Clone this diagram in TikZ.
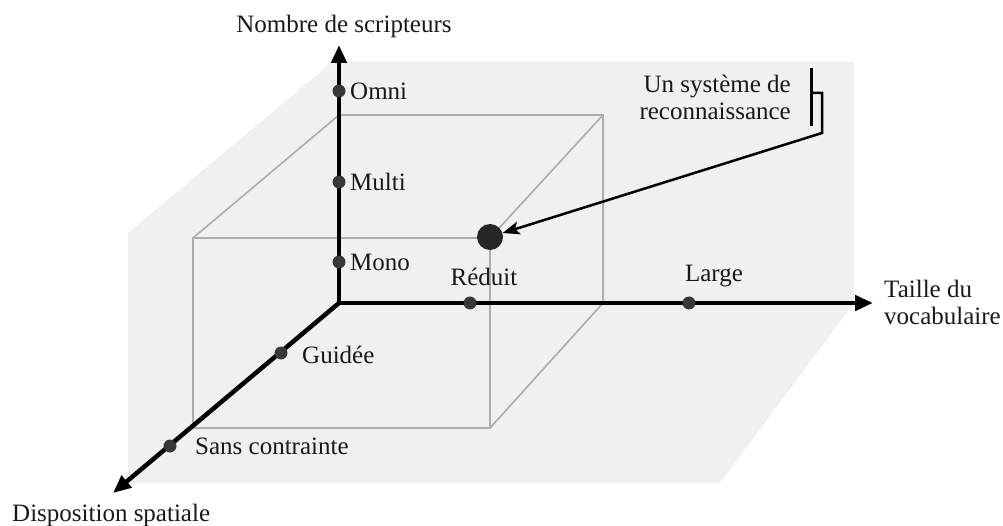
\documentclass[tikz,border=0pt]{standalone}
\usepackage{fontspec}
\setmainfont{Liberation Serif}
\usetikzlibrary{arrows.meta}
\begin{document}
\begin{tikzpicture}[x=1pt,y=-1pt,
  axis/.style={line width=4.5pt, -{Triangle[length=18pt,width=15pt]}},
  cubeline/.style={draw=black!32, line width=1.6pt},
  tick/.style={circle, fill=black!78, inner sep=0pt, minimum size=13pt},
  bigdot/.style={circle, fill=black!85, inner sep=0pt, minimum size=26pt},
  lbl/.style={font=\fontsize{25}{27}\selectfont, inner sep=0pt, text=black!90},
]
\useasboundingbox (0,0) rectangle (1003,526);
% background plane
\fill[black!6] (332,62) -- (854,62) -- (854,303) -- (720,483) -- (128,483) -- (128,233) -- cycle;

% cube
\coordinate (O) at (339,303);
\coordinate (bTL) at (339,115);
\coordinate (bTR) at (603,115);
\coordinate (bBR) at (603,303);
\coordinate (fTL) at (193,238);
\coordinate (fTR) at (490,238);
\coordinate (fBR) at (490,428);
\coordinate (fBL) at (193,428);
\draw[cubeline] (bTL) -- (bTR) -- (bBR);
\draw[cubeline] (fTL) -- (fTR) -- (fBR) -- (fBL) -- cycle;
\draw[cubeline] (fTL) -- (bTL);
\draw[cubeline] (fTR) -- (bTR);
\draw[cubeline] (fBR) -- (bBR);

% axes
\coordinate (ytip) at (339,45);
\coordinate (xtip) at (873,303);
\coordinate (ztip) at (113,493);
\draw[axis] (O) -- (ytip);
\draw[axis] (O) -- (xtip);
\draw[axis] (O) -- (ztip);

% ticks
\node[tick] (omni) at (339,91) {};
\node[tick] (multi) at (339,182) {};
\node[tick] (mono) at (339,262) {};
\node[tick] (reduit) at (470,303) {};
\node[tick] (large) at (689,303) {};
\node[tick] (guidee) at (281,353) {};
\node[tick] (sans) at (170,446) {};
\node[bigdot] (sys) at (490,237) {};

% labels
\node[lbl] (tny) at (344,26) {Nombre de scripteurs};
\node[lbl, anchor=west] (tomni) at (350,91) {Omni};
\node[lbl, anchor=west] (tmulti) at (350,182) {Multi};
\node[lbl, anchor=west] (tmono) at (350,262) {Mono};
\node[lbl] (treduit) at (484,277) {Réduit};
\node[lbl] (tlarge) at (714,276) {Large};
\node[lbl, anchor=west, align=left] (ttaille) at (884,302) {Taille du\\vocabulaire};
\node[lbl, anchor=west] (tguidee) at (302,355) {Guidée};
\node[lbl, anchor=west] (tsans) at (195,446) {Sans contrainte};
\node[lbl, anchor=west] (tdisp) at (12,515) {Disposition spatiale};
\node[lbl, anchor=east, align=right] (tsys) at (791,97) {Un système de\\reconnaissance};

% bracket and pointer
\coordinate (br1) at (811,93);
\coordinate (br2) at (822,93);
\coordinate (br3) at (822,133);
\draw[line width=3pt] (811,68) -- (811,126);
\draw[line width=2.5pt, -{Stealth[length=17pt,width=13pt,inset=4pt]}] (br1) -- (br2) -- (br3) -- (sys);
\end{tikzpicture}
\end{document}
